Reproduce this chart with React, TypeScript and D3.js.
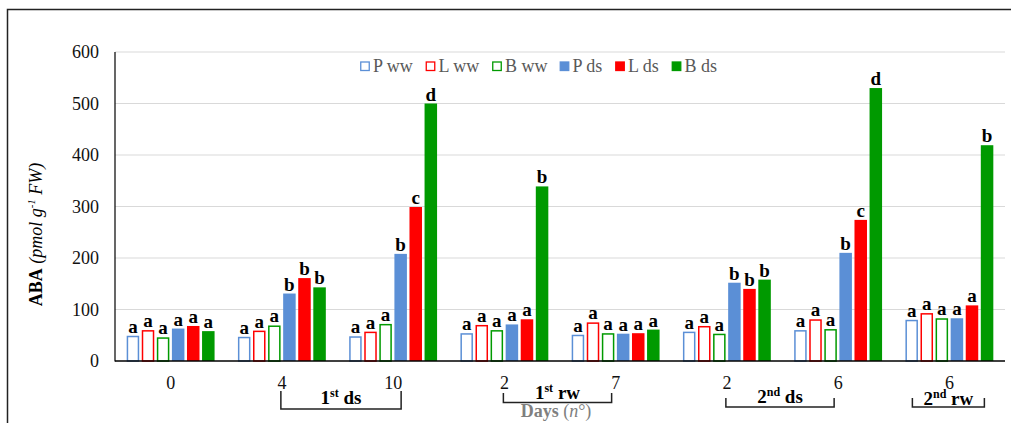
import React from "react";
import * as d3 from "d3";

// days of sampling (x categories)
const days = ["0", "4", "10", "2", "7", "2", "6", "6"];
const seriesNames = ["P ww", "L ww", "B ww", "P ds", "L ds", "B ds"];
const seriesColors = ["#5b8fd6", "#ff0000", "#009a00", "#5b8fd6", "#ff0000", "#009a00"];
const seriesFilled = [false, false, false, true, true, true];

// ABA (pmol g-1 FW)
const pWW = [49, 47, 48, 54, 51, 57, 60, 80];
const lWW = [60, 59, 57, 70, 75, 68, 81, 93];
const bWW = [46, 69, 72, 60, 54, 53, 62, 83];
const pDS = [63, 131, 208, 71, 53, 152, 210, 83];
const lDS = [68, 161, 299, 81, 54, 140, 274, 108];
const bDS = [58, 143, 500, 339, 61, 158, 530, 419];

// significance letters
const pWWLetters = ["a", "a", "a", "a", "a", "a", "a", "a"];
const lWWLetters = ["a", "a", "a", "a", "a", "a", "a", "a"];
const bWWLetters = ["a", "a", "a", "a", "a", "a", "a", "a"];
const pDSLetters = ["a", "b", "b", "a", "a", "b", "b", "a"];
const lDSLetters = ["a", "b", "c", "a", "a", "b", "c", "a"];
const bDSLetters = ["a", "b", "d", "b", "a", "b", "d", "b"];

const yTicks = [0, 100, 200, 300, 400, 500, 600];

// treatment periods under the axis
const periods = [
  { num: "1", sup: "st", word: "ds", from: 1, to: 2 },
  { num: "1", sup: "st", word: "rw", from: 3, to: 4 },
  { num: "2", sup: "nd", word: "ds", from: 5, to: 6 },
  { num: "2", sup: "nd", word: "rw", from: 7, to: 7 },
];

const values = [pWW, lWW, bWW, pDS, lDS, bDS];
const letters = [pWWLetters, lWWLetters, bWWLetters, pDSLetters, lDSLetters, bDSLetters];

const serif = { fontFamily: "Liberation Serif" };

// measure legend label widths so the items sit one after another
function textWidth(s: string, size: number) {
  const ctx = document.createElement("canvas").getContext("2d");
  if (!ctx) return s.length * size * 0.5;
  ctx.font = `${size}px "Liberation Serif"`;
  return ctx.measureText(s).width;
}

export default function App() {
  const width = 1011;
  const height = 423;
  const margin = { left: 115, right: 6, top: 52, bottom: 62 };

  const idx = days.map((_, i) => i);
  const x0 = d3
    .scaleBand<number>()
    .domain(idx)
    .range([margin.left, width - margin.right])
    .paddingInner(0.21)
    .paddingOuter(0.105);
  const x1 = d3
    .scaleBand<number>()
    .domain(seriesNames.map((_, i) => i))
    .range([0, x0.bandwidth()])
    .paddingInner(0.17);
  const y = d3
    .scaleLinear()
    .domain([0, 600])
    .range([height - margin.bottom, margin.top]);

  const center = (i: number) => (x0(i) ?? 0) + x0.bandwidth() / 2;
  const y0 = y(0);

  // legend layout
  const legendPos: number[] = [];
  let lx = 360;
  seriesNames.forEach((n) => {
    legendPos.push(lx);
    lx += 13 + textWidth(n, 18) + 12;
  });

  return (
    <svg width={width} height={height} style={{ position: "absolute", left: 0, top: 0, background: "#fff" }}>
      {/* outer frame */}
      <rect x={7.5} y={9.5} width={width + 10} height={height + 10} fill="none" stroke="#222" strokeWidth={1.5} />

      {/* grid */}
      {yTicks.slice(1).map((t) => (
        <line key={t} x1={margin.left} x2={width - margin.right} y1={y(t)} y2={y(t)} stroke="#d9d9d9" strokeWidth={1} />
      ))}

      {/* y tick labels */}
      {yTicks.map((t) => (
        <text key={t} x={99} y={y(t) + 6} textAnchor="end" fontSize={18} fill="#111" style={serif}>
          {t}
        </text>
      ))}

      {/* bars */}
      {values.map((vals, s) =>
        vals.map((v, i) => {
          const bx = (x0(i) ?? 0) + (x1(s) ?? 0);
          const bw = x1.bandwidth();
          const filled = seriesFilled[s];
          return (
            <g key={`${s}-${i}`}>
              {filled ? (
                <rect x={bx} y={y(v)} width={bw} height={y0 - y(v)} fill={seriesColors[s]} />
              ) : (
                <rect
                  x={bx + 0.75}
                  y={y(v) + 0.75}
                  width={bw - 1.5}
                  height={y0 - y(v) - 0.75}
                  fill="#fff"
                  stroke={seriesColors[s]}
                  strokeWidth={1.5}
                />
              )}
              <text
                x={bx + bw / 2}
                y={y(v) - 3}
                textAnchor="middle"
                fontSize={19}
                fontWeight="bold"
                fill="#000"
                style={serif}
              >
                {letters[s][i]}
              </text>
            </g>
          );
        })
      )}

      {/* axes */}
      <line x1={margin.left} x2={margin.left} y1={y(600)} y2={y0 + 0.5} stroke="#000" strokeWidth={1.2} />
      <line x1={margin.left} x2={width - margin.right} y1={y0} y2={y0} stroke="#000" strokeWidth={1.5} />

      {/* x tick labels */}
      {days.map((d, i) => (
        <text key={i} x={center(i)} y={389} textAnchor="middle" fontSize={18} fill="#111" style={serif}>
          {d}
        </text>
      ))}

      {/* period brackets */}
      {periods.map((p, k) => {
        const single = p.from === p.to;
        const xa = single ? center(p.from) - 37 : center(p.from) - 1;
        const xb = single ? center(p.to) + 35 : center(p.to) + (k === 0 ? 8 : -4);
        const top = k === 0 ? 391 : k === 1 ? 393 : 398;
        const bottom = k === 0 ? 409 : k === 1 ? 402.5 : 407;
        const base = k === 0 ? 404 : k === 1 ? 399 : k === 2 ? 403 : 405;
        return (
          <g key={k}>
            <path
              d={`M${xa},${top} V${bottom} H${xb} V${top}`}
              fill="none"
              stroke="#222"
              strokeWidth={1.5}
            />
            <text x={(xa + xb) / 2} y={base} textAnchor="middle" fontSize={19} fontWeight="bold" fill="#000" style={serif}>
              {p.num}
              <tspan fontSize={12} dy={-7}>
                {p.sup}
              </tspan>
              <tspan dy={7}> {p.word}</tspan>
            </text>
          </g>
        );
      })}

      {/* x axis title */}
      <text x={556} y={417} textAnchor="middle" fontSize={18} fill="#7f7f7f" style={serif}>
        <tspan fontWeight="bold">Days</tspan> (<tspan fontStyle="italic">n</tspan>°)
      </text>

      {/* y axis title */}
      <text
        transform={`translate(42,${(y(0) + y(600)) / 2 + 28}) rotate(-90)`}
        textAnchor="middle"
        fontSize={18}
        fill="#000"
        style={serif}
      >
        <tspan fontWeight="bold">ABA</tspan>
        <tspan fontStyle="italic"> (pmol g</tspan>
        <tspan fontStyle="italic" fontSize={11} dy={-7}>
          -1
        </tspan>
        <tspan fontStyle="italic" dy={7}>
          {" "}FW)
        </tspan>
      </text>

      {/* legend */}
      {seriesNames.map((n, s) => {
        const px = legendPos[s];
        return (
          <g key={n}>
            <rect
              x={px + 0.75}
              y={62}
              width={8.5}
              height={8.5}
              fill={seriesFilled[s] ? seriesColors[s] : "#fff"}
              stroke={seriesColors[s]}
              strokeWidth={1.3}
            />
            <text x={px + 13} y={72} fontSize={18} fill="#595959" style={serif}>
              {n}
            </text>
          </g>
        );
      })}
    </svg>
  );
}
